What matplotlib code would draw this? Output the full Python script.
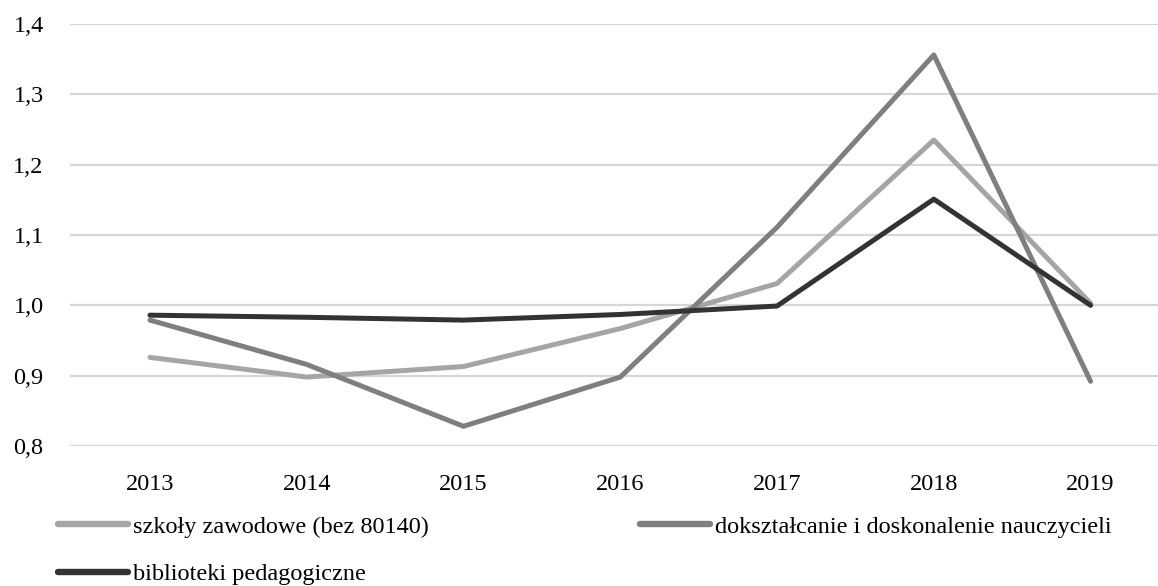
import numpy as np
import matplotlib.pyplot as plt
from matplotlib.lines import Line2D
from matplotlib.ticker import FuncFormatter

#data
years = ["2013", "2014", "2015", "2016", "2017", "2018", "2019"]
szkoly = [0.926, 0.898, 0.913, 0.967, 1.031, 1.235, 1.003]
doksztalcanie = [0.979, 0.916, 0.828, 0.898, 1.111, 1.356, 0.892]
biblioteki = [0.986, 0.983, 0.979, 0.987, 0.999, 1.151, 1.000]
labels = ["szkoły zawodowe (bez 80140)",
          "dokształcanie i doskonalenie nauczycieli",
          "biblioteki pedagogiczne"]
colors = ['#a5a5a5', '#7f7f7f', '#333333']

plt.rcParams['font.family'] = ['Liberation Serif', 'DejaVu Serif']

fig = plt.figure(figsize=(11.58, 5.86), dpi=100)
ax = fig.add_axes([70/1158, 1-446/586, 1-70/1158, (446-24)/586])

x = np.arange(len(years))
for vals, c in zip([szkoly, doksztalcanie, biblioteki], colors):
    ax.plot(x, vals, color=c, lw=3.6, solid_capstyle='round', solid_joinstyle='round')

ax.set_xlim(-0.51, 6.43)
ax.set_ylim(0.8, 1.4)
ax.set_yticks(np.arange(0.8, 1.41, 0.1))
ax.yaxis.set_major_formatter(FuncFormatter(lambda v, p: f"{v:.1f}".replace('.', ',')))
ax.set_xticks(x)
ax.set_xticklabels(years)
ax.grid(axis='y', color='#d6d6d6', lw=1.6)
ax.set_axisbelow(True)
for s in ax.spines.values():
    s.set_visible(False)
ax.tick_params(length=0, labelsize=17.5, colors='#000000')
ax.tick_params(axis='y', pad=19)
ax.tick_params(axis='x', pad=20)

#legend handles a bit thicker than the plot lines
handles = [Line2D([], [], color=c, lw=4.6, solid_capstyle='round') for c in colors]
#row-major order for 2 columns
fig.legend([handles[0], handles[2], handles[1]], [labels[0], labels[2], labels[1]], ncol=2,
           loc='upper left', bbox_to_anchor=(0.05, 0.12), frameon=False,
           fontsize=17.5, handlelength=2.9, handletextpad=0.2,
           columnspacing=8.66, labelspacing=1.05, borderaxespad=0, borderpad=0)

fig.savefig("out.png", dpi=100)
